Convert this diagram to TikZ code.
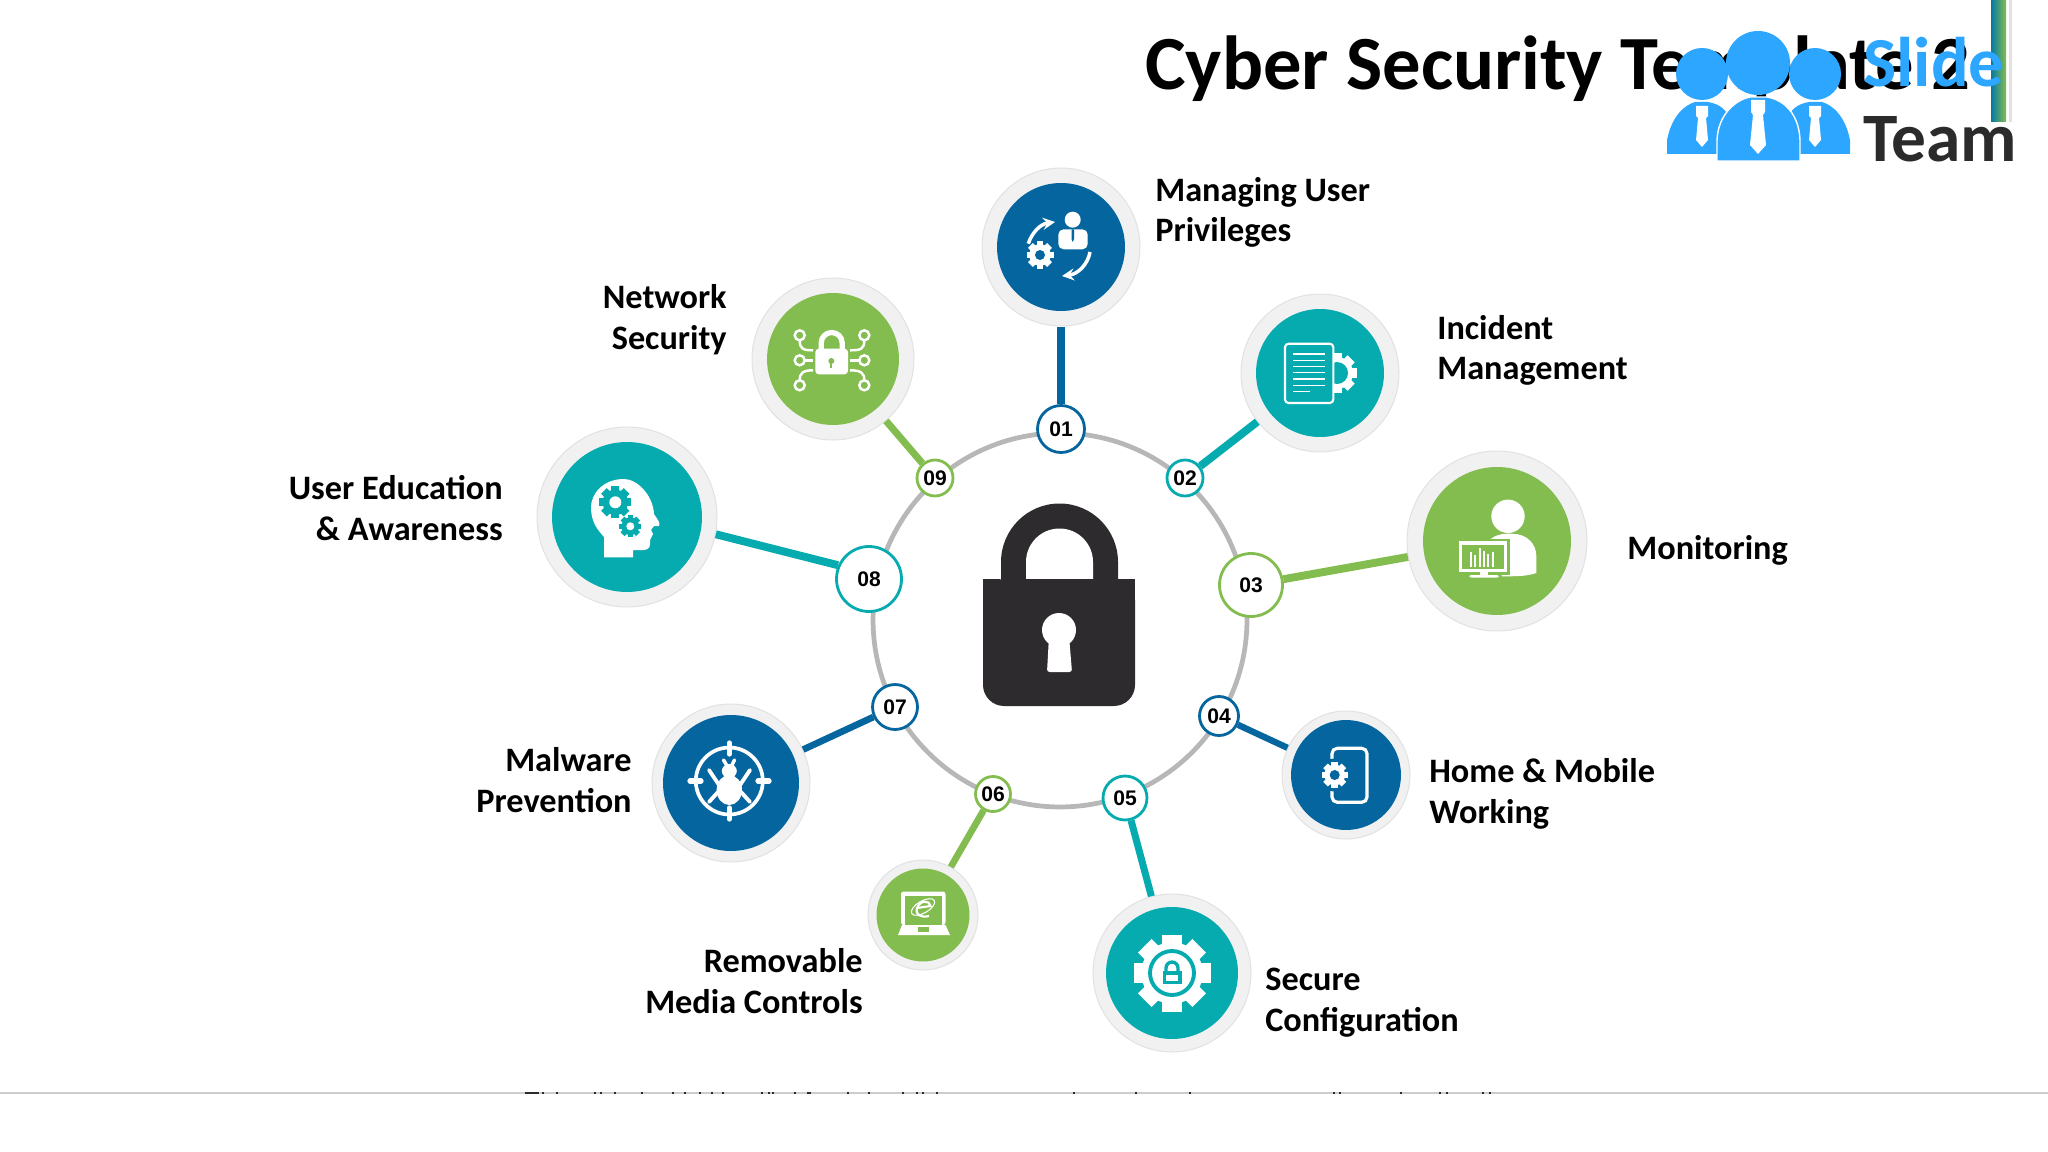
\documentclass[tikz,border=0pt]{standalone}
\usepackage{fontspec}
\setmainfont{Carlito}
\newfontfamily\numfont{Liberation Sans}
\usetikzlibrary{positioning}
\definecolor{blueicon}{HTML}{04659F}
\definecolor{tealicon}{HTML}{06ABB0}
\definecolor{greenicon}{HTML}{84BD4F}
\definecolor{haloicon}{HTML}{F1F1F1}
\definecolor{haloline}{HTML}{E2E2E2}
\definecolor{ringgray}{HTML}{B7B7B7}
\definecolor{lockdark}{HTML}{2D2B2D}
\definecolor{logoblue}{HTML}{2CA6FF}
\definecolor{logodark}{HTML}{2B2B2B}
\tikzset{
  halo/.style={circle, fill=haloicon, draw=haloline, line width=0.6pt, inner sep=0pt, minimum size=#1},
  disc/.style={circle, inner sep=0pt, fill=#1},
  numnode/.style={circle, fill=white, draw=#1, line width=1.6pt, inner sep=0pt, font=\numfont\bfseries\fontsize{12}{12}\selectfont},
  rightlabel/.style={inner sep=0pt, anchor=west, align=left, font=\bfseries\fontsize{19.5}{23.2}\selectfont},
  leftlabel/.style={inner sep=0pt, anchor=east, align=right, font=\bfseries\fontsize{19.5}{23.2}\selectfont}
}
\newcommand{\gearmark}[5]{
  \begin{scope}[shift={(#1)}]
    \fill[#3] (0,0) circle ({0.8*#2});
    \foreach \a in {0,45,...,315}
      \fill[#3, rotate=\a] ({-0.25*#2},0) rectangle ({0.25*#2},#2);
    \fill[#4] (0,0) circle (#5);
  \end{scope}
}
\begin{document}
\begin{tikzpicture}[x=0.02cm, y=0.02cm, >=stealth]
\useasboundingbox (0,0) rectangle (2048,-1152);
\draw[color=ringgray!70, line width=1.1pt] (0,-1093) -- (2048,-1093);
\foreach \t in {543,557,595,601,615,642,673,685,700,712,723,762,769,773,795,808,810,848,869,903,917,923,937,1074,1136,1190,1334,1340,1401,1440,1447,1483,1490}
  \fill[lockdark] (\t-1,-1092) rectangle (\t+1,-1094);
\fill[lockdark] (525,-1092) rectangle (539,-1094);
\node[inner sep=0pt, anchor=base west, font=\bfseries\fontsize{43.6}{43.6}\selectfont] (title) at (1145,-90) {Cyber Security Template 2};

\node[circle, draw=ringgray, line width=2.7pt, inner sep=0pt, minimum size=7.48cm] (ring) at (1060,-620) {};

\node[halo=3.16cm] (m01) at (1061,-247) {};
\node[halo=3.16cm] (m02) at (1320,-373) {};
\node[halo=3.6cm] (m03) at (1497,-541) {};
\node[halo=2.56cm] (m04) at (1346,-775) {};
\node[halo=3.16cm] (m05) at (1172,-973) {};
\node[halo=2.2cm] (m06) at (923,-915) {};
\node[halo=3.16cm] (m07) at (731,-783) {};
\node[halo=3.6cm] (m08) at (627,-517) {};
\node[halo=3.24cm] (m09) at (833,-359) {};
\node[disc=blueicon, minimum size=2.56cm] (c01) at (m01) {};
\node[disc=tealicon, minimum size=2.56cm] (c02) at (m02) {};
\node[disc=greenicon, minimum size=2.96cm] (c03) at (m03) {};
\node[disc=blueicon, minimum size=2.2cm] (c04) at (m04) {};
\node[disc=tealicon, minimum size=2.64cm] (c05) at (m05) {};
\node[disc=greenicon, minimum size=1.86cm] (c06) at (m06) {};
\node[disc=blueicon, minimum size=2.72cm] (c07) at (m07) {};
\node[disc=tealicon, minimum size=3cm] (c08) at (m08) {};
\node[disc=greenicon, minimum size=2.64cm] (c09) at (m09) {};

\node[numnode=blueicon, minimum size=0.94cm] (n01) at (1061,-429) {01};
\node[numnode=tealicon, minimum size=0.72cm] (n02) at (1185,-478) {02};
\node[numnode=greenicon, minimum size=1.26cm] (n03) at (1251,-585) {03};
\node[numnode=blueicon, minimum size=0.78cm] (n04) at (1219,-716) {04};
\node[numnode=tealicon, minimum size=0.88cm] (n05) at (1125,-798) {05};
\node[numnode=greenicon, minimum size=0.7cm] (n06) at (993,-794) {06};
\node[numnode=blueicon, minimum size=0.9cm] (n07) at (895,-707) {07};
\node[numnode=tealicon, minimum size=1.3cm] (n08) at (869,-579) {08};
\node[numnode=greenicon, minimum size=0.72cm] (n09) at (935,-478) {09};

\draw[blueicon, line width=4.5pt] (n01) -- (m01);
\draw[tealicon, line width=4.5pt] (n02) -- (m02);
\draw[greenicon, line width=4.5pt] (n03) -- (m03);
\draw[blueicon, line width=3.6pt] (n04) -- (m04);
\draw[tealicon, line width=4pt] (n05) -- (m05);
\draw[greenicon, line width=3.8pt] (n06) -- (m06);
\draw[blueicon, line width=3.8pt] (n07) -- (m07);
\draw[tealicon, line width=4.5pt] (n08.156) -- (m08.-11);
\draw[greenicon, line width=4pt] (n09) -- (m09);

\node[rightlabel] (l01) at (1155,-212.5) {Managing User\\Privileges};
\node[rightlabel] (l02) at (1437,-350.5) {Incident\\Management};
\node[rightlabel] (l03) at (1627,-550.5) {Monitoring};
\node[rightlabel] (l04) at (1429,-793.5) {Home \& Mobile\\Working};
\node[rightlabel] (l05) at (1265,-1002.5) {Secure\\Configuration};
\node[leftlabel] (l06) at (863,-981) {Removable\\Media Controls};
\node[leftlabel] (l07) at (632,-780) {Malware\\Prevention};
\node[leftlabel] (l08) at (503,-508) {User Education\\\& Awareness};
\node[leftlabel] (l09) at (727,-319.5) {Network\\Security};

\fill[lockdark] (1001,-580) -- (1001,-562) arc[start angle=180, end angle=0, radius=58.5] -- (1118,-580) -- cycle;
\fill[white] (1026,-580) -- (1026,-562) arc[start angle=180, end angle=0, radius=33.5] -- (1093,-580) -- cycle;
\fill[lockdark, rounded corners=12pt] (983,-579) -- (1135,-579) -- (1135,-706) -- (983,-706) -- cycle;
\fill[lockdark] (983,-579) rectangle (1000,-600);
\fill[lockdark] (1118,-579) rectangle (1135,-600);
\fill[white] (1059,-630) circle (17);
\fill[white, rounded corners=1.5pt] (1049,-636) -- (1069,-636) -- (1072,-672) -- (1047,-672) -- cycle;

\begin{scope}[shift={(m01)}]
\fill[white] (11.7,27.3) circle (8);
\fill[white, rounded corners=3pt] (-2.7,-2.3) -- (-2.7,17.7) -- (26.7,17.7) -- (26.7,-2.3) -- cycle;
\fill[blueicon] (10.5,17.7) -- (13,17.7) -- (13,8) -- (11.7,5) -- (10.5,8) -- cycle;
\gearmark{-21,-8}{13.5}{white}{blueicon}{5}
\draw[white, line width=2pt, ->] (-32.7,3.3) .. controls (-29,15) and (-20,23) .. (-6,25);
\draw[white, line width=2pt, ->] (29,-5) .. controls (27,-17) and (17,-27) .. (1,-29);
\end{scope}

\begin{scope}[shift={(m02)}]
\gearmark{17,0}{20}{white}{tealicon}{11}
\draw[white, fill=tealicon, line width=1.2pt, rounded corners=2pt] (-35,29.3) rectangle (13.3,-30);
\draw[white, line width=0.9pt] (-27,19) -- (5,19);
\draw[white, line width=0.9pt] (-27,12.7) -- (5,12.7);
\draw[white, line width=0.9pt] (-27,6.7) -- (5,6.7);
\draw[white, line width=0.9pt] (-27,0.7) -- (5,0.7);
\draw[white, line width=0.9pt] (-27,-6) -- (5,-6);
\draw[white, line width=0.9pt] (-27,-12.3) -- (5,-12.3);
\draw[white, line width=0.9pt] (-27,-18.7) -- (-10,-18.7);
\end{scope}

\begin{scope}[shift={(m03)}]
\fill[white] (11,24.7) circle (16.7);
\fill[white] (-10,-2) .. controls (-5,5) and (3,7.3) .. (10,7.3) -- (15,7.3) .. controls (30,7.3) and (39.3,-3) .. (39.3,-15) -- (39.3,-32) .. controls (30,-35.3) and (20,-35.3) .. (5,-35.3) -- cycle;
\fill[greenicon] (-41,-34) rectangle (13,2);
\fill[white] (-38.3,-31) rectangle (10,-0.3);
\fill[greenicon] (-35,-27.5) rectangle (7,-3.5);
\fill[white] (-27.5,-26) rectangle (-25.5,-11);
\fill[white] (-23,-26) rectangle (-21,-14);
\fill[white] (-18.5,-26) rectangle (-16.5,-7);
\fill[white] (-14,-26) rectangle (-12,-10);
\fill[white] (-10,-26) rectangle (-8,-13);
\fill[white] (-5.5,-26) rectangle (-3.5,-11);
\fill[white] (-17,-31) rectangle (-9,-34);
\fill[white, rounded corners=1pt] (-28,-34) rectangle (2,-36.5);
\end{scope}

\begin{scope}[shift={(m04)}]
\draw[white, line width=1.8pt, rounded corners=3pt] (-14,26.7) rectangle (21,-27.3);
\fill[blueicon] (-11.3,0) circle (16.5);
\gearmark{-11.3,0}{13}{white}{blueicon}{5}
\end{scope}

\begin{scope}[shift={(m05)}]
\gearmark{0,0}{38.5}{white}{white}{1}
\draw[tealicon, line width=2.2pt] (0,0) circle (22);
\draw[tealicon, line width=1.9pt] (-6,2) -- (-6,5) arc[start angle=180, end angle=0, radius=6] -- (6,2);
\fill[tealicon] (-9.5,2) rectangle (9.5,-11);
\fill[white] (-6,-2) rectangle (6,-8);
\end{scope}

\begin{scope}[shift={(m06)}]
\fill[white, rounded corners=1.5pt] (-22,23.5) rectangle (22.5,-10);
\fill[greenicon] (-18,19) rectangle (19,-10);
\fill[white] (-21,-10) -- (22.5,-10) -- (27,-20) -- (-25,-20) -- cycle;
\fill[greenicon] (-5.3,-11.7) rectangle (6.3,-16.7);
\draw[white, line width=1.2pt] (-6,7) -- (7.5,9) .. controls (7,15) and (-3,15) .. (-6,7) .. controls (-8,0) and (-2,-3) .. (6,-1);
\draw[white, line width=0.6pt, rotate around={30:(0,8)}] (0,8) ellipse (13 and 6);
\end{scope}

\begin{scope}[shift={(m07)}]
\draw[white, line width=2.1pt] (-1.7,2) circle (33.5);
\draw[white, line width=3pt, line cap=round] (-1.7,40) -- (-1.7,29);
\draw[white, line width=3pt, line cap=round] (-1.7,-36) -- (-1.7,-25);
\draw[white, line width=3pt, line cap=round] (-41,2) -- (-30,2);
\draw[white, line width=3pt, line cap=round] (27,2) -- (38,2);
\fill[white] (-1.7,-7) ellipse (12.7 and 15);
\fill[white] (-1.7,12) ellipse (7.5 and 7);
\draw[white, line width=2.2pt, line cap=round] (-22,13) -- (-12,-2);
\draw[white, line width=2.2pt, line cap=round] (19,13) -- (9,-2);
\draw[white, line width=2.2pt, line cap=round] (-22,-19) -- (-13,-9);
\draw[white, line width=2.2pt, line cap=round] (19,-19) -- (10,-9);
\draw[white, line width=2pt, line cap=round] (-7.5,23) -- (-2,14);
\draw[white, line width=2pt, line cap=round] (3.5,23) -- (-1,14);
\end{scope}

\begin{scope}[shift={(m08)}]
\fill[white] (-23,-40.3) -- (6,-40.3) -- (6,-33) -- (17,-33) .. controls (22,-33) and (24,-29) .. (23,-23) -- (26,-17) -- (24,-13) -- (27,-9) -- (32,-9) .. controls (34,-6) and (30,-2) .. (27,3) .. controls (26,22) and (10,38) .. (-3,38) .. controls (-25,38) and (-36,22) .. (-36,10) .. controls (-36,-5) and (-30,-12) .. (-23,-20) -- cycle;
\gearmark{-11.7,14.7}{16}{tealicon}{white}{6}
\gearmark{3.3,-9.3}{11}{tealicon}{white}{4}
\end{scope}

\begin{scope}[shift={(m09)}]
\draw[white, line width=3pt] (-11.8,5) -- (-11.8,16) arc[start angle=180, end angle=0, radius=10.5] -- (9.2,5);
\fill[white, rounded corners=2pt] (-17.7,-15.3) rectangle (15,10.3);
\fill[greenicon] (-1.7,-2) circle (3);
\fill[greenicon] (-2.7,-3) rectangle (-0.7,-9);
\draw[white, line width=1.4pt] (-33.3,23.7) circle (5);
\draw[white, line width=1.4pt] (-33.3,-1.3) circle (5);
\draw[white, line width=1.4pt] (-33.3,-26.3) circle (5);
\draw[white, line width=1.4pt] (31.3,23.7) circle (5);
\draw[white, line width=1.4pt] (31.3,-1.3) circle (5);
\draw[white, line width=1.4pt] (31.3,-26.3) circle (5);
\draw[white, line width=1.4pt] (-33.3,18.7) .. controls (-33.3,10) and (-30,8.7) .. (-20,8.7);
\draw[white, line width=1.4pt] (-28.3,-1.3) -- (-20,-1.3);
\draw[white, line width=1.4pt] (-33.3,-21.3) .. controls (-33.3,-14) and (-30,-11.3) .. (-20,-11.3);
\draw[white, line width=1.4pt] (31.3,18.7) .. controls (31.3,10) and (28,8.7) .. (17,8.7);
\draw[white, line width=1.4pt] (26.3,-1.3) -- (17,-1.3);
\draw[white, line width=1.4pt] (31.3,-21.3) .. controls (31.3,-14) and (28,-11.3) .. (17,-11.3);
\end{scope}

\shade[left color=blueicon!70!tealicon, right color=greenicon] (1991,0) rectangle (2006,-122);
\fill[haloline] (2009,0) rectangle (2012,-122);
\fill[logoblue] (1702,-74) ellipse (26 and 26);
\fill[logoblue] (1815,-74) ellipse (26 and 26);
\fill[logoblue] (1667,-154) -- (1667,-140) .. controls (1672,-115) and (1685,-105) .. (1695,-102) -- (1708,-102) .. controls (1720,-104) and (1727,-110) .. (1730,-120) -- (1730,-154) -- cycle;
\fill[logoblue] (1850,-154) -- (1850,-140) .. controls (1845,-115) and (1832,-105) .. (1822,-102) -- (1809,-102) .. controls (1797,-104) and (1790,-110) .. (1787,-120) -- (1787,-154) -- cycle;
\filldraw[fill=logoblue, draw=white, line width=0.8pt] (1717,-161) -- (1717,-140) .. controls (1718,-115) and (1735,-100) .. (1750,-97) -- (1767,-97) .. controls (1785,-100) and (1799,-115) .. (1800,-140) -- (1800,-161) -- cycle;
\fill[logoblue] (1758,-63) ellipse (32 and 32);
\fill[white] (1751,-100) -- (1765,-100) -- (1765,-112) -- (1763,-115) -- (1766,-145) -- (1758,-154) -- (1750,-145) -- (1753,-115) -- (1751,-112) -- cycle;
\fill[white] (1696,-106) -- (1708,-106) -- (1708,-116) -- (1706,-118) -- (1708,-140) -- (1702,-147) -- (1696,-140) -- (1698,-118) -- (1696,-116) -- cycle;
\fill[white] (1809,-106) -- (1821,-106) -- (1821,-116) -- (1819,-118) -- (1821,-140) -- (1815,-147) -- (1809,-140) -- (1811,-118) -- (1809,-116) -- cycle;
\node[inner sep=0pt, anchor=base west, text=logoblue, font=\bfseries\fontsize{40}{40}\selectfont] (slide) at (1863,-87) {Slide};
\node[inner sep=0pt, anchor=base west, text=logodark, font=\bfseries\fontsize{39.5}{39.5}\selectfont] (team) at (1863,-162) {Team};
\end{tikzpicture}
\end{document}
